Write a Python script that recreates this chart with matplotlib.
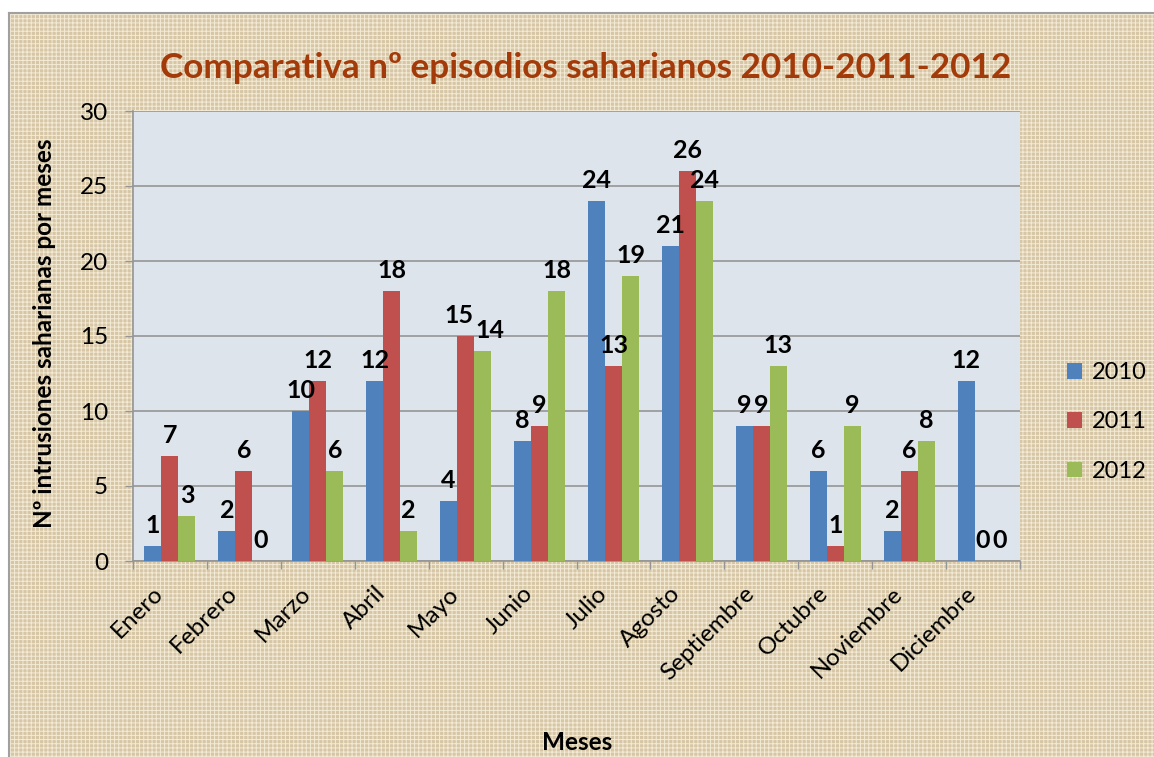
import matplotlib
matplotlib.use("Agg")
import matplotlib.pyplot as plt
from matplotlib.patches import Rectangle
from matplotlib.transforms import ScaledTranslation
import numpy as np

months = ["Enero", "Febrero", "Marzo", "Abril", "Mayo", "Junio", "Julio",
          "Agosto", "Septiembre", "Octubre", "Noviembre", "Diciembre"]
years = ["2010", "2011", "2012"]
v2010 = [1, 2, 10, 12, 4, 8, 24, 21, 9, 6, 2, 12]
v2011 = [7, 6, 12, 18, 15, 9, 13, 26, 9, 1, 6, 0]
v2012 = [3, 0, 6, 2, 14, 18, 19, 24, 13, 9, 8, 0]
yticks = [0, 5, 10, 15, 20, 25, 30]

title = "Comparativa nº episodios saharianos 2010-2011-2012"
xlabel = "Meses"
ylabel = "Nº intrusiones saharianas por meses"

colors = ["#4F81BD", "#C0504D", "#9BBB59"]
plt.rcParams["font.family"] = ["Lato", "DejaVu Sans"]
plt.rcParams["hatch.linewidth"] = 0.7

W, H = 1154, 757
fig = plt.figure(figsize=(W / 100, H / 100), dpi=100)
fig.patch.set_facecolor("white")

# chart background (parchment texture)
bg = Rectangle((9 / W, 0), 1 - 9 / W + 0.01, 1 - 13 / H, transform=fig.transFigure,
               facecolor="#D6C6A5", edgecolor="#F3EBD6", linewidth=0, hatch="++++",
               zorder=-10)
fig.patches.append(bg)
fig.add_artist(plt.Line2D([9 / W, 1], [1 - 13 / H, 1 - 13 / H], color="#A0A0A0", lw=1.5,
                          transform=fig.transFigure))
fig.add_artist(plt.Line2D([9 / W, 9 / W], [0, 1 - 13 / H], color="#A0A0A0", lw=1.5,
                          transform=fig.transFigure))

left, right, top, bottom = 133, 1020, 111, 561
ax = fig.add_axes([left / W, 1 - bottom / H, (right - left) / W, (bottom - top) / H])
ax.set_facecolor("#DDE4EC")

x = np.arange(len(months))
bw = 0.23
series = [v2010, v2011, v2012]
labels = [[None] * 3 for _ in months]
for i, (vals, c, yr) in enumerate(zip(series, colors, years)):
    pos = x + (i - 1) * bw
    ax.bar(pos, vals, width=bw, color=c, label=yr, zorder=3)
    for j, (xp, v) in enumerate(zip(pos, vals)):
        labels[j][i] = ax.annotate(str(v), (xp, v), xytext=(0, 9.5),
                                   textcoords="offset points", ha="center",
                                   va="baseline", fontsize=18, fontweight="bold",
                                   color="black", zorder=4)

ax.set_xlim(-0.5, len(months) - 0.5)
ax.set_ylim(0, 30)
ax.set_yticks(yticks)
ax.set_yticklabels([str(t) for t in yticks], fontsize=17.5)
ax.yaxis.grid(True, color="#959595", lw=1.2, zorder=0)
ax.set_axisbelow(True)

ax.set_xticks(x)
ax.set_xticklabels(months, rotation=45, ha="right", va="center",
                   rotation_mode="anchor", fontsize=17.5)
ax.tick_params(axis="x", length=0, pad=21)
shift = ScaledTranslation(-10 / 100, 0, fig.dpi_scale_trans)
for lab in ax.get_xticklabels():
    lab.set_transform(lab.get_transform() + shift)
ax.set_xticks(np.arange(-0.5, len(months), 1), minor=True)
ax.tick_params(axis="x", which="minor", length=6, color="#959595", width=1)
ax.tick_params(axis="y", length=6, color="#959595", width=1, pad=12)

for s in ["top", "right"]:
    ax.spines[s].set_visible(False)
for s in ["left", "bottom"]:
    ax.spines[s].set_color("#959595")
    ax.spines[s].set_linewidth(1.2)

fig.text(586 / W, 1 - 68 / H, title, ha="center", va="center", fontsize=25.3,
         fontweight="bold", color="#A33A0A")
fig.text(45 / W, 1 - 333 / H, ylabel, ha="center", va="center", rotation=90,
         fontsize=17.5, fontweight="bold")
fig.text(577 / W, 1 - 742 / H, xlabel, ha="center", va="center",
         fontsize=17.5, fontweight="bold")

leg = fig.legend(loc="center left", bbox_to_anchor=(1055 / W, 1 - 422 / H),
                 frameon=False, fontsize=17, handlelength=0.65, handleheight=0.65,
                 handletextpad=0.4, labelspacing=1.2, borderpad=0)

# nudge neighbouring value labels apart horizontally where they collide
fig.canvas.draw()
renderer = fig.canvas.get_renderer()
for group in labels:
    for a, b in zip(group[:-1], group[1:]):
        ea = a.get_window_extent(renderer)
        eb = b.get_window_extent(renderer)
        if ea.overlaps(eb):
            ov = ea.x1 - eb.x0 + 2
            dx = ov / 2 * 72 / fig.dpi
            xa, ya = a.xyann
            xb, yb = b.xyann
            a.xyann = (xa - dx, ya)
            b.xyann = (xb + dx, yb)

fig.savefig("out.png", dpi=100, facecolor=fig.get_facecolor())
